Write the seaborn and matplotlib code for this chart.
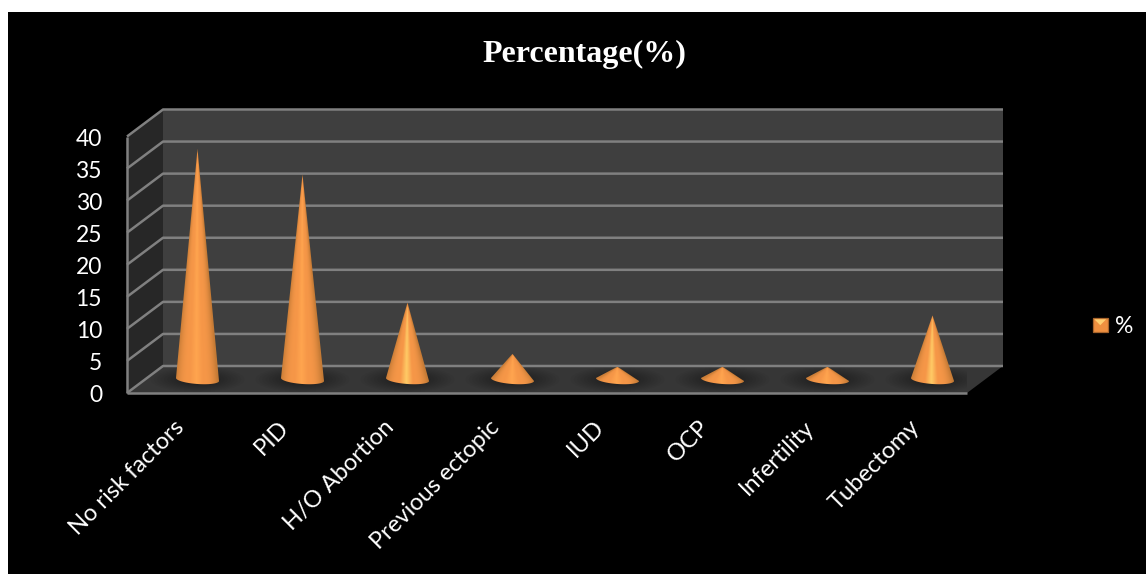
import numpy as np
import pandas as pd
import matplotlib
matplotlib.use("Agg")
import matplotlib.pyplot as plt
import seaborn as sns
from matplotlib.colors import to_rgb
from matplotlib.legend_handler import HandlerBase
from matplotlib.patches import Ellipse, Patch, PathPatch, Polygon, Rectangle
from matplotlib.path import Path
from matplotlib.transforms import Affine2D

# Risk factor shares
risk_factors = ["No risk factors", "PID", "H/O Abortion", "Previous ectopic",
                "IUD", "OCP", "Infertility", "Tubectomy"]
percentages = [36, 32, 12, 4, 2, 2, 2, 10]
value_ticks = [0, 5, 10, 15, 20, 25, 30, 35, 40]
series_name = "%"
chart_title = "Percentage(%)"

W, H = 1146, 574
sns.set_theme(style="dark", rc={"axes.grid": False})
plt.rcParams["font.family"] = ["Lato", "DejaVu Sans"]

fig = plt.figure(figsize=(W / 100, H / 100), dpi=100, facecolor="white")
fig.add_artist(Rectangle((8 / W, 0), (W - 8) / W, (H - 12) / H, zorder=-5,
                         transform=fig.transFigure, facecolor="black", edgecolor="none"))

# The axes area is the front plane of the box; depth is an offset towards the back wall
left, right, top, bottom = 127, 967, 136.5, 393
ax = fig.add_axes([left / W, 1 - bottom / H, (right - left) / W, (bottom - top) / H])
ax.patch.set_alpha(0)

df = pd.DataFrame({"factor": risk_factors, "pct": percentages})
sns.barplot(data=df, x="factor", y="pct", width=43 / 105, color="#f79646",
            errorbar=None, ax=ax)
bars = list(ax.containers[0])

ax.set_xlim(-0.5, len(risk_factors) - 0.5)
ax.set_ylim(0, 40)
px_x = len(risk_factors) / (right - left)
px_y = 40 / (bottom - top)
depth_x, depth_y = 36 * px_x, 27 * px_y
x0, x1 = -0.5, len(risk_factors) - 0.5

# Box walls and floor
ax.add_patch(Polygon([(x0 + depth_x, 0 + depth_y), (x1 + depth_x, 0 + depth_y),
                      (x1 + depth_x, 40 + depth_y), (x0 + depth_x, 40 + depth_y)],
                     facecolor="#3f3f3f", edgecolor="none", clip_on=False, zorder=1))
ax.add_patch(Polygon([(x0, 0), (x0 + depth_x, depth_y), (x0 + depth_x, 40 + depth_y), (x0, 40)],
                     facecolor="#272727", edgecolor="none", clip_on=False, zorder=1))
ax.add_patch(Polygon([(x0, 0), (x1, 0), (x1 + depth_x, depth_y), (x0 + depth_x, depth_y)],
                     facecolor="#363636", edgecolor="none", clip_on=False, zorder=1))

line_style = dict(color="#808080", lw=1.8, clip_on=False, zorder=2, solid_capstyle="butt")
for v in value_ticks:
    ax.plot([x0, x0 + depth_x, x1 + depth_x], [v, v + depth_y, v + depth_y], **line_style)
ax.plot([x0, x0], [0, 40], **line_style)
ax.plot([x0, x1], [0, 0], **line_style)


def cone_colors(u, value):
    """Orange shading across a cone, u running from -1 to 1 over its width."""
    edge = np.array(to_rgb("#c47a35"))
    mid = np.array(to_rgb("#f69748"))
    peak = np.array(to_rgb("#ffcb66" if 8 <= value <= 15 else "#ffa54f"))
    s = np.abs(u + 0.05)[..., None]
    c = np.where(s < 0.3,
                 peak + (mid - peak) * (s / 0.3),
                 mid + (edge - mid) * ((s - 0.3) / 0.7).clip(0, 1) ** 2.5)
    return c.clip(0, 1)


# Bars give the positions and heights; each is shown as a cone standing mid-depth
semi_b = 4.5 * px_y
tilt = 1.5 * px_y
for bar in bars:
    bar.set_visible(False)
    xc = bar.get_x() + bar.get_width() / 2 + depth_x / 2
    a = bar.get_width() / 2
    base = depth_y / 2
    val = bar.get_height()
    apex = base + val

    # Soft contact shadow on the floor
    for k in range(14):
        f = 1 - k / 14
        ax.add_patch(Ellipse((xc, base), 2 * (47 * px_x) * f, 2 * (12.5 * px_y) * f,
                             facecolor="black", edgecolor="none", alpha=0.035, zorder=3))

    ys = np.linspace(base - semi_b - tilt, apex, max(int((val + 2) / px_y) * 2, 40))
    xs = np.linspace(xc - a, xc + a, 90)
    gx, gy = np.meshgrid(xs, ys)
    half = a * np.clip(1 - (gy - base) / val, 0.002, 1)
    rgb = cone_colors(np.clip((gx - xc) / half, -1, 1), val)

    t = np.linspace(np.pi, 2 * np.pi, 40)
    outline = [(xc, apex)]
    outline += [(xc + a * np.cos(q), base + semi_b * np.sin(q) - tilt * np.cos(q))
                for q in t[::-1]]
    outline.append((xc, apex))
    clip = PathPatch(Path(outline), transform=ax.transData, facecolor="none", edgecolor="none")
    ax.add_patch(clip)
    img = ax.imshow(rgb, extent=[xc - a, xc + a, ys[0], ys[-1]], origin="lower",
                    aspect="auto", interpolation="bilinear", zorder=4)
    img.set_clip_path(clip)

ax.set_xlim(x0, x1)
ax.set_ylim(0, 40)

for s in ax.spines.values():
    s.set_visible(False)
ax.set_xlabel("")
ax.set_ylabel("")
ax.set_yticks(value_ticks)
ax.tick_params(axis="y", length=0, pad=18, labelcolor="white", labelsize=16.5)
ax.tick_params(axis="x", length=0, pad=17, labelcolor="white", labelsize=17)
plt.setp(ax.get_xticklabels(), rotation=45, ha="right", rotation_mode="anchor")
for label in ax.get_xticklabels():
    label.set_transform(label.get_transform() + Affine2D().translate(-6, 0))
for label in ax.get_yticklabels():
    label.set_transform(label.get_transform() + Affine2D().translate(0, -1))

fig.text(584.5 / W, 1 - 54 / H, chart_title, ha="center", va="center", color="white",
         fontsize=23, fontweight="bold", family="Liberation Serif")


class BevelHandler(HandlerBase):
    """Small bevelled square used as the legend key."""

    def create_artists(self, legend, orig, xd, yd, width, height, fontsize, trans):
        side = 10.5
        x = -xd + (width - side) / 2
        y = -yd + (height - side) / 2
        base = Rectangle((x, y), side, side, facecolor="#ef9040", edgecolor="#a9652c",
                         lw=0.9, transform=trans)
        tip = Polygon([(x + 1, y + side - 1), (x + side - 1, y + side - 1),
                       (x + side / 2, y + side / 2)], facecolor="#ffcf70",
                      edgecolor="none", transform=trans)
        return [base, tip]


fig.legend([Patch(color="#f79646")], [series_name], loc="center left",
           bbox_to_anchor=(1092 / W, 1 - 326 / H), frameon=False, labelcolor="white",
           fontsize=16.5, handler_map={Patch: BevelHandler()}, handlelength=0.72,
           handleheight=1.0, handletextpad=0.3, borderpad=0, borderaxespad=0)

fig.savefig("out.png", dpi=100, facecolor="white")
